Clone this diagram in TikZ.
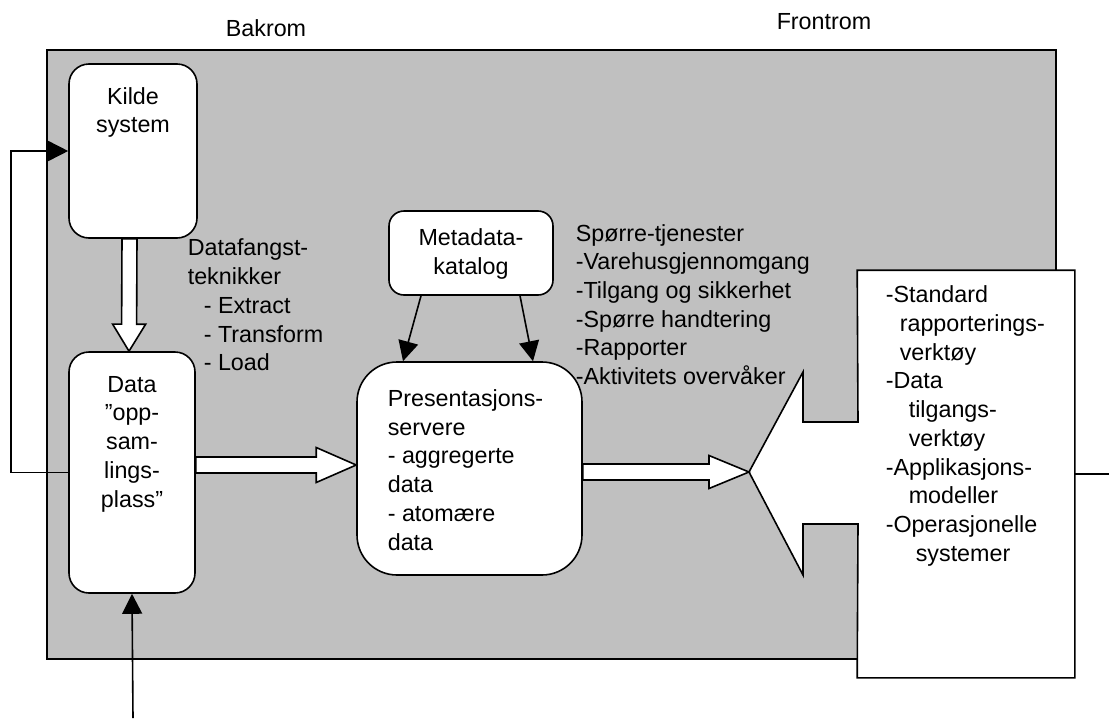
\documentclass[tikz,border=0pt]{standalone}
\usepackage{fontspec}
\setmainfont{Liberation Sans}
\usetikzlibrary{arrows.meta,calc}
\definecolor{roomgray}{HTML}{C0C0C0}
\newcommand\diagfont{\fontsize{23.3pt}{28.7pt}\selectfont}
% Hollow block arrow between two points:
% #1 from, #2 to, #3 shaft half width, #4 head half width, #5 head length
\newcommand\fatarrow[5]{%
  \draw[fat] let \p1=#1, \p2=#2,
    \n1={atan2(\y2-\y1,\x2-\x1)}, \n2={veclen(\x2-\x1,\y2-\y1)} in
    [shift={(\p1)}, rotate=\n1]
    (0,-#3) -- ({\n2-#5},-#3) -- ({\n2-#5},-#4) -- (\n2,0)
    -- ({\n2-#5},#4) -- ({\n2-#5},#3) -- (0,#3) -- cycle;}
\begin{document}
\begin{tikzpicture}[x=1pt,y=-1pt,line width=1.6pt,
  box/.style={draw, fill=white, rounded corners=#1, inner sep=0pt},
  txt/.style={font=\diagfont, inner sep=0pt, align=left},
  fat/.style={draw, fill=white, line join=miter},
  arrowto/.style={-{Triangle[length=20pt,width=20pt]}},
]
\useasboundingbox (0,0) rectangle (1109,718);

% back room area
\draw[fill=roomgray] (47,50) rectangle (1056,659);

% front room: box with an arrow-shaped notch on its left
\node[minimum width=216pt, minimum height=406pt, inner sep=0pt] (front) at (966,474) {};
\coordinate (ctip) at (749,472);
\draw[fill=white, line join=miter] (front.north west) -- (front.north east)
  -- (front.south east) -- (front.south west) -- (858,524) -- (803,524)
  -- (803,575) -- (ctip) -- (803,372) -- (803,422) -- (858,422) -- cycle;

% section titles
\node[txt] (bak) at (266,28) {Bakrom};
\node[txt] (frontt) at (824,22) {Frontrom};

% boxes
\node[box=20pt, minimum width=128pt, minimum height=174pt] (kilde) at (133,151) {};
\node[box=20pt, minimum width=126pt, minimum height=241pt] (data) at (132,472.5) {};
\node[box=15pt, minimum width=164pt, minimum height=84pt] (meta) at (471,253) {};
\node[box=40pt, minimum width=225pt, minimum height=213pt] (pres) at (469.5,468.5) {};

% box texts
\node[txt, align=center] (kildetxt) at (133,112.5) {Kilde\\system};
\node[txt, align=center] (datatxt) at (132,444) {Data\\”opp-\\sam-\\lings-\\plass”};
\node[txt, align=center] (metatxt) at (471,254) {Metadata-\\katalog};
\node[txt, anchor=west] (prestxt) at (387,470)
  {Presentasjons-\\servere\\- aggregerte\\data\\- atomære\\data};

% free texts
\node[txt, anchor=west] (etl) at (187,305)
  {Datafangst-\\teknikker\\\hspace*{16pt}- Extract\\\hspace*{16pt}- Transform\\\hspace*{16pt}- Load};
\node[txt, anchor=west] (query) at (575,304.5)
  {Spørre-tjenester\\-Varehusgjennomgang\\-Tilgang og sikkerhet\\-Spørre handtering\\-Rapporter\\-Aktivitets overvåker};
\node[txt, anchor=west] (tools) at (885,426)
  {-Standard\\\hspace*{14pt}rapporterings-\\\hspace*{14pt}verktøy\\-Data\\\hspace*{23pt}tilgangs-\\\hspace*{23pt}verktøy\\-Applikasjons-\\\hspace*{23pt}modeller\\-Operasjonelle\\\hspace*{30pt}systemer};

% connectors
\draw[arrowto] (data.west) -- ++(-57pt,0) |- (kilde.west);
\coordinate (feed) at (133,718);
\draw[arrowto] (feed) -- (data.south);
\coordinate (exit) at (1109,474);
\draw (front.east) -- (exit);
\draw[arrowto] ([xshift=-50pt]meta.south) -- ([xshift=-66.5pt]pres.north);
\draw[arrowto] ([xshift=49pt]meta.south) -- ([xshift=63.5pt]pres.north);

% block arrows
\fatarrow{([xshift=-3.5pt]kilde.south)}{([xshift=-3pt]data.north)}{7.5}{16.5}{27}
\fatarrow{([yshift=7.5pt]data.east)}{([yshift=3.5pt]pres.west)}{8}{17.5}{40}
\fatarrow{([yshift=-3.5pt]pres.east)}{(ctip)}{8}{16.5}{40}
\end{tikzpicture}
\end{document}
